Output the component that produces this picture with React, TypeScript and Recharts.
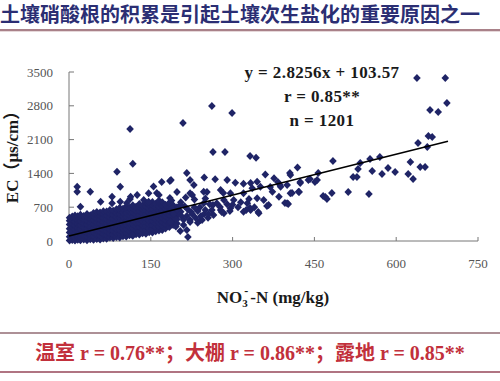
import { ScatterChart, Scatter, XAxis, YAxis } from 'recharts';

const TITLE = '土壤硝酸根的积累是引起土壤次生盐化的重要原因之一';
const FOOTER = '温室 r = 0.76**；大棚 r = 0.86**；露地 r = 0.85**';
const EQUATION = ['y = 2.8256x + 103.57', 'r = 0.85**', 'n = 1201'];

const X_TICKS = [0, 150, 300, 450, 600, 750];
const Y_TICKS = [0, 700, 1400, 2100, 2800, 3500];

// regression from the chart: y = 2.8256x + 103.57, drawn over the NO3-N range of the samples
const SLOPE = 2.8256;
const INTERCEPT = 103.57;
const TREND_X = [0, 695];

// the solid mass of samples near the origin, column by column (NO3-N, list of EC)
const DENSE: [number, number[]][] = [
  [1, [8, 90, 175, 255, 340, 420, 480]],
  [6, [20, 110, 200, 285, 365, 445, 505]],
  [11, [12, 70, 150, 235, 320, 400, 480, 530]],
  [16, [25, 105, 190, 270, 350, 430, 510]],
  [21, [15, 80, 160, 245, 330, 410, 490, 545]],
  [27, [30, 115, 200, 280, 360, 445, 520]],
  [33, [18, 90, 170, 255, 340, 420, 500, 560]],
  [39, [35, 120, 205, 290, 370, 455, 535]],
  [45, [25, 100, 180, 265, 345, 430, 510, 580]],
  [51, [40, 130, 215, 300, 380, 465, 545, 600]],
  [57, [30, 110, 190, 275, 360, 440, 520, 590]],
  [63, [50, 140, 225, 305, 390, 470, 555, 615]],
  [69, [45, 120, 200, 285, 370, 450, 530, 610]],
  [75, [70, 150, 235, 320, 400, 485, 565, 640]],
  [81, [60, 135, 215, 300, 380, 465, 545, 625]],
  [87, [85, 165, 250, 330, 415, 495, 580, 660]],
  [93, [75, 150, 230, 315, 395, 480, 560, 640, 690]],
  [99, [100, 180, 265, 345, 430, 510, 595, 670]],
  [105, [95, 170, 250, 330, 410, 495, 575, 655, 715]],
  [111, [120, 200, 285, 365, 450, 530, 610, 690]],
  [117, [110, 190, 270, 350, 435, 515, 600, 680, 740]],
  [123, [140, 220, 300, 385, 465, 550, 630, 710]],
  [129, [135, 210, 290, 370, 455, 540, 620, 700, 765]],
  [135, [160, 240, 320, 405, 485, 570, 650, 730]],
  [141, [150, 230, 310, 395, 475, 560, 640, 720, 790]],
  [147, [180, 260, 345, 425, 510, 590, 670, 750]],
  [153, [175, 255, 335, 420, 500, 585, 665, 745, 810]],
  [159, [200, 285, 365, 450, 530, 610, 695, 770]],
  [165, [215, 300, 380, 465, 545, 630, 710, 790, 840]],
  [171, [230, 320, 400, 480, 560, 645, 725, 800]],
  [177, [260, 345, 430, 510, 590, 670, 750]],
  [184, [290, 380, 460, 540, 620, 700, 790]],
  [191, [330, 420, 500, 580, 660, 740]],
  [198, [360, 450, 540, 620, 700]],
];

// scattered samples around the mass and along the trend
const SCATTERED: [number, number][] = [
  [15, 1125], [15, 1021], [39, 1021], [21, 711], [58, 814], [79, 918], [79, 780], [94, 814],
  [94, 1125], [106, 787], [112, 870], [113, 918], [125, 952], [137, 849], [146, 987], [146, 814],
  [161, 994], [165, 952], [155, 1130], [170, 1220], [187, 1263], [185, 890], [189, 677], [205, 607],
  [116, 124],
  [248, 1315], [268, 1280], [290, 1263], [305, 1205], [320, 1185], [333, 1200], [345, 1228],
  [360, 1375], [376, 1298], [383, 1222], [406, 1366], [419, 1520], [222, 1263], [229, 1159],
  [222, 987], [198, 1015], [185, 1242], [226, 952], [247, 1021], [253, 1015], [278, 1056],
  [283, 994], [296, 987], [320, 987], [336, 1091], [351, 1125], [369, 1118], [373, 1021],
  [387, 1160], [388, 1125], [400, 1159], [385, 918], [406, 987], [421, 1021], [247, 780],
  [271, 780], [284, 849], [302, 849], [327, 780], [332, 683], [345, 884], [357, 849], [262, 642],
  [278, 642], [296, 677], [320, 607], [333, 642], [348, 573], [366, 745], [363, 725], [400, 780],
  [265, 538], [284, 573], [264, 745], [277, 704], [347, 600], [244, 435], [222, 435], [241, 435],
  [222, 393], [210, 331], [216, 228], [204, 207], [218, 83],
  [205, 800], [212, 720], [218, 650], [226, 560], [232, 480], [236, 620], [240, 700], [248, 560],
  [255, 480], [230, 860], [214, 900], [200, 560], [195, 460], [206, 520], [250, 880], [258, 760],
  [290, 760], [310, 700], [280, 600], [295, 620], [325, 640], [340, 700], [300, 750], [315, 800],
  [330, 870], [186, 400], [192, 560], [198, 650], [204, 740], [210, 440], [216, 520], [224, 600],
  [230, 700], [236, 380], [242, 520], [250, 640], [256, 560], [196, 300], [188, 840],
  [396, 787], [402, 766], [409, 994], [422, 1015], [424, 1201], [405, 1408], [424, 1222],
  [439, 1263], [451, 1222], [442, 1284], [455, 1263], [457, 1408], [466, 932], [470, 911],
  [473, 870], [482, 994], [484, 1656], [512, 1015], [521, 1325], [528, 1325], [530, 1490],
  [534, 1615], [550, 973], [552, 1698], [556, 1449], [570, 1739], [574, 1387], [585, 1511],
  [598, 1429], [622, 1387], [626, 1636], [631, 1284], [644, 1532], [653, 1532],
];

// the far-off samples
const OUTLIERS: [number, number][] = [
  [112, 2320], [209, 2443], [262, 2795], [299, 2650], [264, 1843], [286, 1843], [332, 1760],
  [343, 1725], [117, 1600], [88, 1435], [216, 1410], [638, 3375], [690, 3375], [693, 2857],
  [662, 2712], [677, 2671], [659, 2174], [666, 2153], [640, 2029], [657, 1946],
];

const POINT_COLOR = '#1f2466';
const SERIF = "'Liberation Serif', 'Noto Sans CJK SC', serif";

const points = [
  ...DENSE.flatMap(([x, ys]) => ys.map((y) => ({ x, y }))),
  ...SCATTERED.map(([x, y]) => ({ x, y })),
  ...OUTLIERS.map(([x, y]) => ({ x, y })),
];
const trend = TREND_X.map((x) => ({ x, y: SLOPE * x + INTERCEPT }));

const Diamond = (props: any) => {
  const { cx, cy } = props;
  if (cx == null || cy == null) return <g />;
  return (
    <path
      d={`M${cx},${cy - 4}L${cx + 3.8},${cy}L${cx},${cy + 4}L${cx - 3.8},${cy}Z`}
      fill={POINT_COLOR}
    />
  );
};

const NoDot = () => <g />;

const App = () => {
  const tickStyle = { fontFamily: SERIF, fontSize: 13, fill: '#555' };
  return (
    <div style={{ position: 'absolute', left: 0, top: 0, width: 500, height: 381, background: '#fff', overflow: 'hidden' }}>
      <div style={{ position: 'absolute', left: 0, top: 2, width: 500, whiteSpace: 'nowrap', fontFamily: "'Noto Sans CJK SC', sans-serif", fontWeight: 700, fontSize: 20, lineHeight: '24px', color: '#2b2e73' }}>
        {TITLE}
      </div>
      <div style={{ position: 'absolute', left: 0, top: 29, width: 500, height: 2, background: '#a98189' }} />
      <div style={{ position: 'absolute', left: 0, top: 31, width: 500, height: 1, background: '#e6d8da' }} />

      <ScatterChart width={500} height={381} margin={{ top: 72, right: 22, bottom: 110, left: 0 }}>
        <XAxis
          type="number"
          dataKey="x"
          domain={[0, 750]}
          ticks={X_TICKS}
          height={30}
          tickSize={-4}
          tickMargin={22}
          axisLine={{ stroke: '#777' }}
          tickLine={{ stroke: '#777' }}
          tick={tickStyle}
        />
        <YAxis
          type="number"
          dataKey="y"
          domain={[0, 3500]}
          ticks={Y_TICKS}
          width={69}
          tickSize={-5}
          tickMargin={21}
          axisLine={{ stroke: '#777' }}
          tickLine={{ stroke: '#777' }}
          tick={tickStyle}
        />
        <Scatter data={points} shape={Diamond} isAnimationActive={false} />
        <Scatter data={trend} shape={NoDot} line={{ stroke: '#000', strokeWidth: 1.5 }} isAnimationActive={false} />
      </ScatterChart>

      {EQUATION.map((t, i) => (
        <div key={t} style={{ position: 'absolute', left: 222, width: 200, top: 62 + i * 24, textAlign: 'center', fontFamily: SERIF, fontWeight: 700, fontSize: 17, lineHeight: '22px', color: '#1a1a1a', letterSpacing: 0.4, whiteSpace: 'nowrap' }}>
          {t}
        </div>
      ))}

      <div style={{ position: 'absolute', left: 13 - 70, top: 153 - 11, width: 140, height: 22, lineHeight: '22px', textAlign: 'center', transform: 'rotate(-90deg)', transformOrigin: '50% 50%', whiteSpace: 'nowrap', fontFamily: SERIF, fontWeight: 700, fontSize: 17, color: '#1a1a1a' }}>
        EC（μs/cm）
      </div>

      <div style={{ position: 'absolute', left: 173, width: 200, top: 287, textAlign: 'center', whiteSpace: 'nowrap', fontFamily: SERIF, fontWeight: 700, fontSize: 17, lineHeight: '22px', color: '#1a1a1a' }}>
        NO
        <span style={{ display: 'inline-block', position: 'relative', width: 8, height: 10 }}>
          <span style={{ position: 'absolute', left: 0, top: 5, fontSize: 11, lineHeight: '11px' }}>3</span>
          <span style={{ position: 'absolute', left: 2, top: -7, fontSize: 12, lineHeight: '11px' }}>-</span>
        </span>
        -N (mg/kg)
      </div>

      <div style={{ position: 'absolute', left: 0, top: 332, width: 500, height: 2, background: '#ad9096' }} />
      <div style={{ position: 'absolute', left: 0, top: 341, width: 500, textAlign: 'center', whiteSpace: 'nowrap', fontFamily: SERIF, fontWeight: 700, fontSize: 20, lineHeight: '24px', color: '#c2303b' }}>
        {FOOTER}
      </div>
      <div style={{ position: 'absolute', left: 0, top: 371, width: 500, height: 2, background: '#b07482' }} />
    </div>
  );
};

export default App;
